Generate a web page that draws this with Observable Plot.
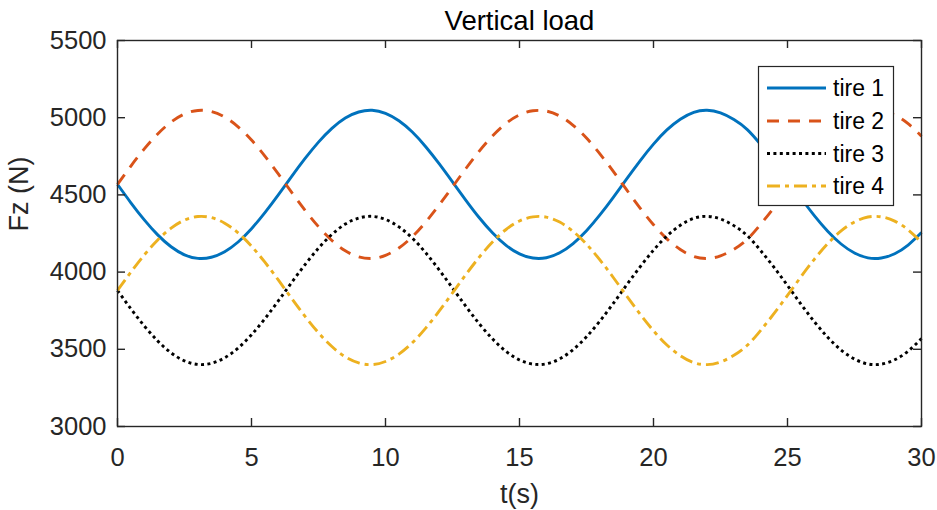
<!DOCTYPE html>
<html><head><meta charset="utf-8">
<script src="https://cdn.jsdelivr.net/npm/d3@7"></script>
<script src="https://cdn.jsdelivr.net/npm/@observablehq/plot@0.6"></script>
<style>
html,body{margin:0;padding:0;background:#fff;}
#wrap{position:relative;width:937px;height:510px;overflow:hidden;}
#wrap svg{display:block;}
#legend{position:absolute;left:0;top:0;}
</style></head><body><div id="wrap"></div>
<script>
const titleText = "Vertical load";
const xLabel = "t(s)";
const yLabel = "Fz (N)";
const xTicks = [0, 5, 10, 15, 20, 25, 30];
const yTicks = [3000, 3500, 4000, 4500, 5000, 5500];
const seriesNames = ["tire 1", "tire 2", "tire 3", "tire 4"];
const seriesColors = ["#0072BD", "#D95319", "#000000", "#EDB120"];
const seriesDash = [null, "12,9", "3,3.4", "13,5,4,5"];

const time = [0,0.5,1,1.5,2,2.5,3,3.5,4,4.5,5,5.5,6,6.5,7,7.5,8,8.5,9,9.5,10,10.5,11,11.5,12,12.5,13,13.5,14,14.5,15,15.5,16,16.5,17,17.5,18,18.5,19,19.5,20,20.5,21,21.5,22,22.5,23,23.5,24,24.5,25,25.5,26,26.5,27,27.5,28,28.5,29,29.5,30];

const tire1 = [4568,4449,4338,4241,4164,4112,4089,4096,4132,4195,4281,4385,4500,4620,4736,4842,4931,4998,5037,5048,5028,4980,4907,4812,4702,4584,4465,4352,4253,4173,4118,4091,4093,4125,4185,4268,4370,4484,4604,4721,4829,4921,4990,5035,5048,5031,4988,4923,4826,4717,4600,4480,4366,4265,4182,4124,4092,4091,4119,4175,4256];
const tire2 = [4568,4687,4798,4895,4972,5024,5047,5040,5004,4941,4855,4751,4636,4516,4400,4294,4205,4138,4099,4088,4108,4156,4229,4324,4434,4552,4671,4784,4883,4963,5018,5045,5043,5011,4951,4868,4766,4652,4532,4415,4307,4215,4146,4101,4088,4105,4148,4213,4310,4419,4536,4656,4770,4871,4954,5012,5044,5045,5017,4961,4880];
const tire3 = [3881,3762,3651,3554,3477,3425,3402,3409,3445,3508,3594,3698,3813,3933,4049,4155,4244,4311,4350,4361,4341,4293,4220,4125,4015,3897,3778,3665,3566,3486,3431,3404,3406,3438,3498,3581,3683,3797,3917,4034,4142,4234,4303,4348,4361,4344,4301,4236,4139,4030,3913,3793,3679,3578,3495,3437,3405,3404,3432,3488,3569];
const tire4 = [3881,4000,4111,4208,4285,4337,4360,4353,4317,4254,4168,4064,3949,3829,3713,3607,3518,3451,3412,3401,3421,3469,3542,3637,3747,3865,3984,4097,4196,4276,4331,4358,4356,4324,4264,4181,4079,3965,3845,3728,3620,3528,3459,3414,3401,3418,3461,3526,3623,3732,3849,3969,4083,4184,4267,4325,4357,4358,4330,4274,4193];

const allSeries = [tire1, tire2, tire3, tire4];

const W = 937, H = 510;
const mL = 117, mR = 16, mT = 40, mB = 84;
const plotW = W - mL - mR, plotH = H - mT - mB;
const tickLen = 8;
const axisColor = "#262626";
const font = "'Liberation Sans', Arial, Helvetica, sans-serif";
const lw = 2.9;

const lineMarks = allSeries.map((vals, k) =>
  Plot.line(time.map((t, i) => ({t, v: vals[i]})), {
    x: "t", y: "v",
    stroke: seriesColors[k],
    strokeWidth: lw,
    strokeDasharray: seriesDash[k],
    strokeLinecap: "butt",
    curve: "natural"
  })
);

const chart = Plot.plot({
  width: W, height: H,
  marginLeft: mL, marginRight: mR, marginTop: mT, marginBottom: mB,
  style: {fontFamily: font, fontSize: "25px", color: axisColor, background: "#fff"},
  x: {domain: [0, 30], axis: null},
  y: {domain: [3000, 5500], axis: null},
  marks: [
    ...lineMarks,
    Plot.frame({stroke: axisColor, strokeWidth: 1.4}),
    Plot.tickX(xTicks, {x: d => d, stroke: axisColor, strokeWidth: 1.4, insetTop: plotH - tickLen}),
    Plot.tickX(xTicks, {x: d => d, stroke: axisColor, strokeWidth: 1.4, insetBottom: plotH - tickLen}),
    Plot.tickY(yTicks, {y: d => d, stroke: axisColor, strokeWidth: 1.4, insetRight: plotW - tickLen}),
    Plot.tickY(yTicks, {y: d => d, stroke: axisColor, strokeWidth: 1.4, insetLeft: plotW - tickLen}),
    Plot.axisX(xTicks, {anchor: "bottom", tickSize: 0, tickPadding: 21, fontSize: 25.5, fill: axisColor, label: null, tickFormat: d => String(d)}),
    Plot.axisY(yTicks, {anchor: "left", tickSize: 0, tickPadding: 11, fontSize: 25.5, fill: axisColor, label: null, tickFormat: d => String(d)}),
    Plot.text([xLabel], {text: d => d, frameAnchor: "bottom", lineAnchor: "middle", dy: 68, fontSize: 27, fill: axisColor}),
    Plot.text([yLabel], {text: d => d, frameAnchor: "left", lineAnchor: "middle", rotate: -90, dx: -98.5, dy: -2, fontSize: 27, fill: axisColor}),
    Plot.text([titleText], {text: d => d, frameAnchor: "top", lineAnchor: "middle", dy: -19.5, fontSize: 27.5, fill: "#000"})
  ]
});

const wrap = document.getElementById("wrap");
wrap.appendChild(chart);

// Legend (inside the axes, top-right), as an overlay
const lg = d3.select(wrap).append("svg").attr("id", "legend")
  .attr("width", W).attr("height", H)
  .style("font-family", font);
const box = {x: 758.5, y: 66.5, w: 135, h: 139};
lg.append("rect").attr("x", box.x).attr("y", box.y).attr("width", box.w).attr("height", box.h)
  .attr("fill", "#fff").attr("stroke", axisColor).attr("stroke-width", 1.2);
const rowY = [88, 121, 153.5, 186];
seriesNames.forEach((name, k) => {
  lg.append("line").attr("x1", 767).attr("x2", 826).attr("y1", rowY[k]).attr("y2", rowY[k])
    .attr("stroke", seriesColors[k]).attr("stroke-width", lw)
    .attr("stroke-dasharray", seriesDash[k]);
  lg.append("text").attr("x", 833).attr("y", rowY[k] + 8)
    .attr("font-size", 23).attr("fill", "#000").text(name);
});
</script>
</body></html>
